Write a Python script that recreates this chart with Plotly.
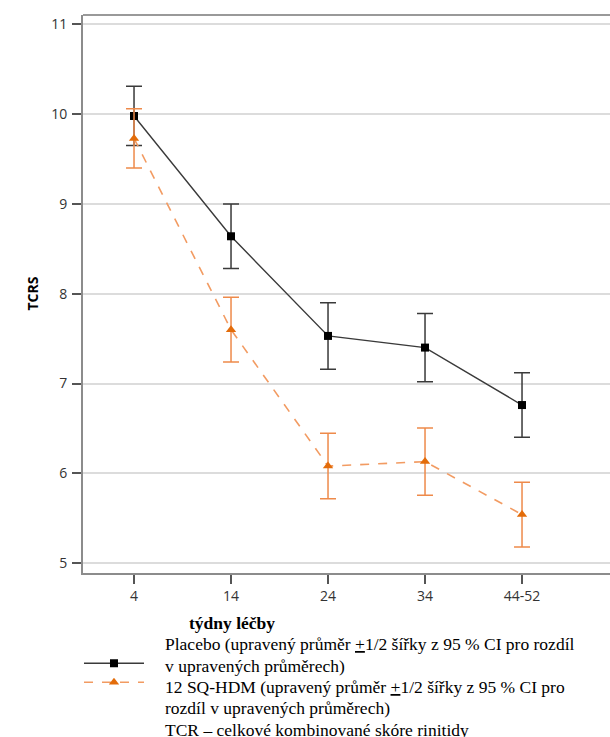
import plotly.graph_objects as go

weeks = ["4", "14", "24", "34", "44-52"]
placebo_mean = [9.98, 8.64, 7.53, 7.40, 6.76]
placebo_err = [0.33, 0.36, 0.37, 0.38, 0.36]
sq_mean = [9.73, 7.60, 6.08, 6.13, 5.54]
sq_err = [0.33, 0.36, 0.365, 0.375, 0.36]
y_ticks = [5, 6, 7, 8, 9, 10, 11]

U = "<span style=\"text-decoration:underline\">+</span>"
legend_lines = [
    "Placebo (upravený průměr " + U + "1/2 šířky z 95 % CI pro rozdíl",
    "v upravených průměrech)",
    "12 SQ-HDM (upravený průměr " + U + "1/2 šířky z 95 % CI pro",
    "rozdíl v upravených průměrech)",
    "TCR – celkové kombinované skóre rinitidy",
]
legend_line_y = [-0.1272, -0.1658, -0.2043, -0.2419, -0.2805]

fig = go.Figure()
fig.add_trace(go.Scatter(
    x=weeks, y=placebo_mean, mode="lines+markers", name=" ",
    line=dict(color="#3a3a3a", width=1.4),
    marker=dict(symbol="square", size=8, color="#000000"),
    error_y=dict(type="data", array=placebo_err, visible=True, color="#3a3a3a", thickness=1.5, width=8),
))
fig.add_trace(go.Scatter(
    x=weeks, y=sq_mean, mode="lines+markers", name=" ",
    line=dict(color="#F29B62", width=1.6, dash="dash"),
    marker=dict(symbol="triangle-up", size=9, color="#E36C0A"),
    error_y=dict(type="data", array=sq_err, visible=True, color="#EE8A4A", thickness=1.5, width=8),
))

tickfont = dict(family="Open Sans", size=14, color="#333")
fig.update_layout(
    width=610, height=737,
    margin=dict(l=83, r=0, t=15, b=164),
    plot_bgcolor="white", paper_bgcolor="white",
    showlegend=True,
    legend=dict(x=-0.0076, y=-0.1357, xanchor="left", yanchor="top",
                itemwidth=60, tracegroupgap=0, font=dict(size=10),
                bgcolor="rgba(0,0,0,0)"),
    xaxis=dict(type="category", range=[-0.526, 4.907], showgrid=False,
               showline=True, linecolor="#8c8c8c", linewidth=2,
               ticks="outside", ticklen=9, tickcolor="#555", tickwidth=1.5,
               tickfont=tickfont),
    yaxis=dict(range=[4.889, 11.105], tickvals=y_ticks, showgrid=True,
               gridcolor="#dcdcdc", gridwidth=1.5, zeroline=False,
               showline=True, linecolor="#8c8c8c", linewidth=2,
               ticks="outside", ticklen=9, tickcolor="#555", tickwidth=1.5,
               ticklabelstandoff=2, tickfont=tickfont),
    font=dict(family="Liberation Serif", color="#000"),
)

fig.add_shape(type="line", xref="paper", yref="paper", x0=0, x1=1, y0=1, y1=1,
              line=dict(color="#999999", width=2))

fig.add_annotation(text="<b>TCRS</b>", xref="paper", yref="paper", x=-0.1195, y=0.5,
                   textangle=-90, showarrow=False,
                   font=dict(family="Open Sans", size=14, color="#000"))
fig.add_annotation(text="<b>týdny léčby</b>", xref="paper", yref="paper", x=0.2827, y=-0.0896,
                   xanchor="center", yanchor="middle", showarrow=False,
                   font=dict(family="Liberation Serif", size=17.5, color="#000"))
for line, ly in zip(legend_lines, legend_line_y):
    fig.add_annotation(text=line, xref="paper", yref="paper", x=0.1518, y=ly,
                       xanchor="left", yanchor="middle", align="left", showarrow=False,
                       font=dict(family="Liberation Serif", size=17.5, color="#000"))

fig.write_html("out.html", config={"displayModeBar": False},
               post_script="document.body.style.margin='0';document.body.style.overflow='hidden';")
